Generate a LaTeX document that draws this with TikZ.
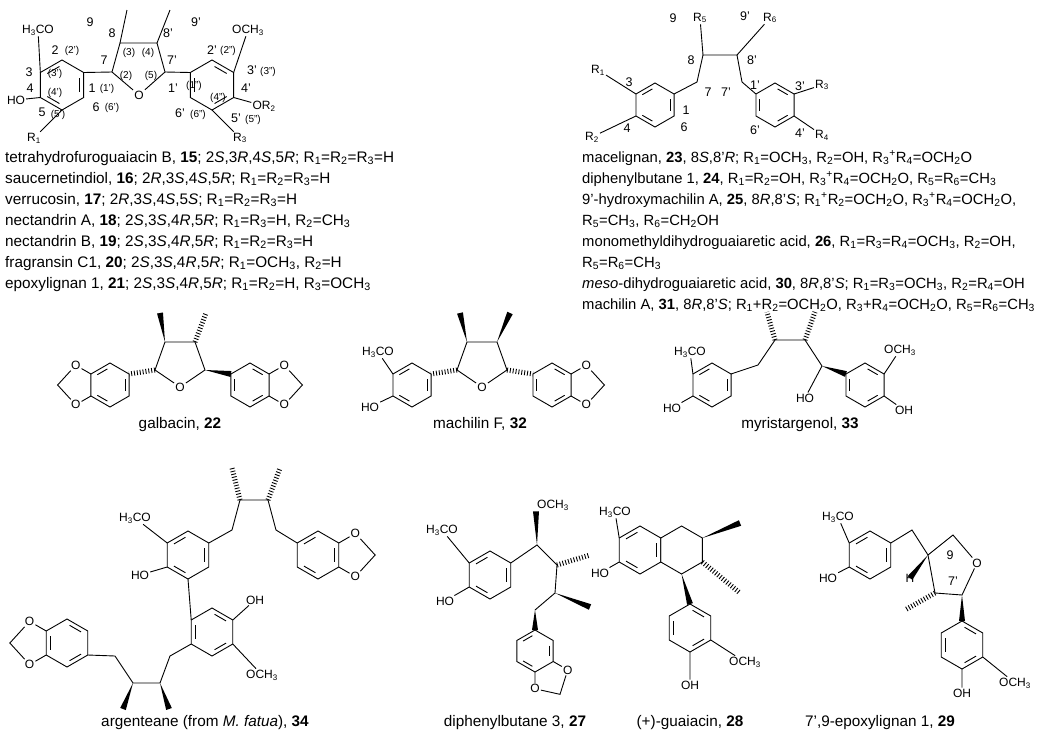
\documentclass[tikz,border=0pt]{standalone}
\usepackage{fontspec}
\setmainfont{Liberation Sans}
\usetikzlibrary{calc}
\newcommand\ring[4]{%
 \coordinate (#1c) at (#2,#3);
 \foreach \k in {0,...,5}{\coordinate (#1\k) at ($(#1c)+({90+60*\k}:#4)$);}
 \draw[bond] (#10)--(#11)--(#12)--(#13)--(#14)--(#15)--cycle;}
\newcommand\db[3]{\draw[bond,shorten <=3pt,shorten >=3pt] ($(#1)!.2!(#3)$)--($(#2)!.2!(#3)$);}
\newcommand\dbz[1]{\db{#10}{#11}{#1c}\db{#12}{#13}{#1c}\db{#14}{#15}{#1c}}
\newcommand\dbo[1]{\db{#11}{#12}{#1c}\db{#13}{#14}{#1c}\db{#15}{#10}{#1c}}
\newcommand\diox[3]{%
 \node[lab] (o1) at ($(#1)!1.8!(#2)$) {O};
 \node[lab] (o2) at ($(#1)!1.8!(#3)$) {O};
 \coordinate (ch) at ($(#1)!2.75!($(#2)!.5!(#3)$)$);
 \draw[bond] (#2)--(o1)--(ch)--(o2)--(#3);}
\newcommand\hashb[2]{\draw[line width=5pt,dash pattern=on 0.9pt off 2pt] (#1)--(#2);}
\newcommand\wedgeb[2]{\fill ($(#1)$) -- ($(#2)!3pt!90:(#1)$) -- ($(#2)!3pt!-90:(#1)$) -- cycle;}
\newcommand\sub[1]{\textsubscript{#1}}
\tikzset{bond/.style={line width=0.9pt},
 lab/.style={font=\fontsize{12}{12}\selectfont,inner sep=1pt},
 num/.style={font=\fontsize{12.5}{12}\selectfont,inner sep=0.5pt},
 sm/.style={font=\fontsize{10}{10}\selectfont,inner sep=0.5pt},
 captxt/.style={font=\fontsize{15.3}{15}\selectfont,anchor=base west,inner sep=0},
 captxr/.style={font=\fontsize{14.8}{15}\selectfont,anchor=base west,inner sep=0},
 capc/.style={font=\fontsize{15.3}{15}\selectfont,anchor=base,inner sep=0}}
\begin{document}
\begin{tikzpicture}[x=1pt,y=-1pt]
\useasboundingbox (0,0) rectangle (1050,737);
\fill[white] (0,0) rectangle (1050,737);
% ===== structure top left
\ring{A}{62}{85}{25}\dbz{A}
\node[lab] (a1) at (38,30) {H\sub{3}CO};
\node[lab] (a2) at (16,100) {HO};
\node[lab] (a3) at (34,138) {R\sub{1}};
\draw[bond] (A2)--(a1) (A1)--(a2) (A0)--(a3);
\coordinate (c7) at (112,72); \coordinate (c8) at (120,43); \coordinate (c8p) at (157,43); \coordinate (c7p) at (165,72);
\node[lab] (fo) at (139,95) {O};
\draw[bond] (A4)--(c7)--(c8)--(c8p)--(c7p)--(fo)--(c7);
\coordinate (m9) at (127,10); \coordinate (m9p) at (170,10);
\draw[bond] (c8)--(m9) (c8p)--(m9p);
\ring{B}{212}{85}{25}\dbo{B}
\draw[bond] (c7p)--(B2);
\node[lab] (b1) at (248,30) {OCH\sub{3}};
\node[lab] (b2) at (264,106) {OR\sub{2}};
\node[lab] (b3) at (240,138) {R\sub{3}};
\draw[bond] (B4)--(b1) (B5)--(b2) (B0)--(b3);
\node[num] at (55,50) {2}; \node[sm] at (72,51) {(2')};
\node[num] at (29,72) {3}; \node[sm] at (55,74) {(3')};
\node[num] at (30,88) {4}; \node[sm] at (55,93) {(4')};
\node[num] at (42,112) {5}; \node[sm] at (58,115) {(5')};
\node[num] at (96,107) {6}; \node[sm] at (112,108) {(6')};
\node[num] at (92,88) {1}; \node[sm] at (107,89) {(1')};
\node[num] at (104,60) {7}; \node[sm] at (126,76) {(2)};
\node[num] at (112,33) {8}; \node[sm] at (129,53) {(3)}; \node[sm] at (148,53) {(4)};
\node[num] at (168,33) {8'}; \node[sm] at (151,76) {(5)}; \node[num] at (172,60) {7'};
\node[num] at (90,22) {9}; \node[num] at (196,22) {9'};
\node[num] at (173,88) {1'}; \node[sm] at (194,86) {(1'')};
\node[num] at (212,50) {2'}; \node[sm] at (228,51) {(2'')};
\node[num] at (252,70) {3'}; \node[sm] at (268,72) {(3'')};
\node[num] at (246,88) {4'}; \node[sm] at (218,98) {(4'')};
\node[num] at (180,113) {6'}; \node[sm] at (198,115) {(6'')};
\node[num] at (236,118) {5'}; \node[sm] at (253,120) {(5'')};
% ===== structure top right
\ring{C}{655}{105}{22}\dbz{C}
\node[lab] (c1) at (598,70) {R\sub{1}};
\node[lab] (c2) at (592,137) {R\sub{2}};
\draw[bond] (C2)--(c1) (C1)--(c2);
\coordinate (d7) at (697,82); \coordinate (d8) at (703,55); \coordinate (d8p) at (737,55); \coordinate (d7p) at (742,82);
\node[lab] (r5) at (700,18) {R\sub{5}}; \node[lab] (r6) at (770,18) {R\sub{6}};
\draw[bond] (C4)--(d7)--(d8)--(d8p)--(d7p);
\draw[bond] (d8)--(r5) (d8p)--(r6);
\ring{D}{775}{105}{22}\dbo{D}
\draw[bond] (d7p)--(D2);
\node[lab] (d1) at (822,85) {R\sub{3}}; \node[lab] (d2) at (822,135) {R\sub{4}};
\draw[bond] (D4)--(d1) (D5)--(d2);
\node[num] at (629,82) {3}; \node[num] at (627,128) {4}; \node[num] at (686,110) {1}; \node[num] at (684,127) {6};
\node[num] at (708,92) {7}; \node[num] at (691,60) {8}; \node[num] at (673,18) {9};
\node[num] at (726,92) {7'}; \node[num] at (752,60) {8'}; \node[num] at (745,16) {9'};
\node[num] at (755,85) {1'}; \node[num] at (800,86) {3'}; \node[num] at (755,130) {6'}; \node[num] at (800,133) {4'};
% ===== caption blocks
\begin{scope}[every node/.style={captxt}]
\node at (5,162) {tetrahydrofuroguaiacin B, \textbf{15}; 2\textit{S},3\textit{R},4\textit{S},5\textit{R}; R\sub{1}=R\sub{2}=R\sub{3}=H};
\node at (5,183) {saucernetindiol, \textbf{16}; 2\textit{R},3\textit{S},4\textit{S},5\textit{R}; R\sub{1}=R\sub{2}=R\sub{3}=H};
\node at (5,204) {verrucosin, \textbf{17}; 2\textit{R},3\textit{S},4\textit{S},5\textit{S}; R\sub{1}=R\sub{2}=R\sub{3}=H};
\node at (5,225) {nectandrin A, \textbf{18}; 2\textit{S},3\textit{S},4\textit{R},5\textit{R}; R\sub{1}=R\sub{3}=H, R\sub{2}=CH\sub{3}};
\node at (5,246) {nectandrin B, \textbf{19}; 2\textit{S},3\textit{S},4\textit{R},5\textit{R}; R\sub{1}=R\sub{2}=R\sub{3}=H};
\node at (5,267) {fragransin C1, \textbf{20}; 2\textit{S},3\textit{S},4\textit{R},5\textit{R}; R\sub{1}=OCH\sub{3}, R\sub{2}=H};
\node at (5,288) {epoxylignan 1, \textbf{21}; 2\textit{S},3\textit{S},4\textit{R},5\textit{R}; R\sub{1}=R\sub{2}=H, R\sub{3}=OCH\sub{3}};
\end{scope}
\begin{scope}[every node/.style={captxr}]
\node at (582,162) {macelignan, \textbf{23}, 8\textit{S},8'\textit{R}; R\sub{1}=OCH\sub{3}, R\sub{2}=OH, R\sub{3}\textsuperscript{+}R\sub{4}=OCH\sub{2}O};
\node at (582,183) {diphenylbutane 1, \textbf{24}, R\sub{1}=R\sub{2}=OH, R\sub{3}\textsuperscript{+}R\sub{4}=OCH\sub{2}O, R\sub{5}=R\sub{6}=CH\sub{3}};
\node at (582,204) {9'-hydroxymachilin A, \textbf{25}, 8\textit{R},8'\textit{S}; R\sub{1}\textsuperscript{+}R\sub{2}=OCH\sub{2}O, R\sub{3}\textsuperscript{+}R\sub{4}=OCH\sub{2}O,};
\node at (582,225) {R\sub{5}=CH\sub{3}, R\sub{6}=CH\sub{2}OH};
\node at (582,246) {monomethyldihydroguaiaretic acid, \textbf{26}, R\sub{1}=R\sub{3}=R\sub{4}=OCH\sub{3}, R\sub{2}=OH,};
\node at (582,267) {R\sub{5}=R\sub{6}=CH\sub{3}};
\node at (582,288) {\textit{meso}-dihydroguaiaretic acid, \textbf{30}, 8\textit{R},8'\textit{S}; R\sub{1}=R\sub{3}=OCH\sub{3}, R\sub{2}=R\sub{4}=OH};
\node at (582,309) {machilin A, \textbf{31}, 8\textit{R},8'\textit{S}; R\sub{1}+R\sub{2}=OCH\sub{2}O, R\sub{3}+R\sub{4}=OCH\sub{2}O, R\sub{5}=R\sub{6}=CH\sub{3}};
\end{scope}
% ===== galbacin 22
\ring{G}{110}{385}{22}\dbz{G}
\coordinate (g7) at (155,370); \coordinate (g8) at (165,342); \coordinate (g8p) at (195,342); \coordinate (g7p) at (205,370);
\node[lab] (go) at (180,387) {O};
\draw[bond] (g7)--(g8)--(g8p)--(g7p)--(go)--(g7);
\ring{H}{250}{385}{22}\dbo{H}
\hashb{g7}{G4} \wedgeb{g7p}{H2}
\coordinate (gm1) at (160,313); \coordinate (gm2) at (206,313);
\wedgeb{g8}{gm1} \hashb{g8p}{gm2}
\diox{Gc}{G2}{G1} \diox{Hc}{H4}{H5}
% ===== machilin F 32
\ring{M}{412}{385}{22}\dbz{M}
\node[lab] (m1) at (378,352) {H\sub{3}CO}; \node[lab] (m2) at (370,407) {HO};
\draw[bond] (M2)--(m1) (M1)--(m2);
\coordinate (n7) at (457,370); \coordinate (n8) at (467,342); \coordinate (n8p) at (497,342); \coordinate (n7p) at (507,370);
\node[lab] (no) at (482,387) {O};
\draw[bond] (n7)--(n8)--(n8p)--(n7p)--(no)--(n7);
\ring{N}{552}{385}{22}\dbo{N}
\hashb{n7}{M4} \hashb{n7p}{N2}
\coordinate (nm1) at (460,313); \coordinate (nm2) at (510,313);
\wedgeb{n8}{nm1} \wedgeb{n8p}{nm2}
\diox{Nc}{N4}{N5}
% ===== myristargenol 33
\ring{Y}{712}{385}{22}\dbz{Y}
\node[lab] (y1) at (690,352) {H\sub{3}CO}; \node[lab] (y2) at (672,408) {HO};
\draw[bond] (Y2)--(y1) (Y1)--(y2);
\coordinate (y7) at (758,365); \coordinate (y8) at (775,340); \coordinate (y8p) at (805,340); \coordinate (y7p) at (822,366);
\draw[bond] (Y4)--(y7)--(y8)--(y8p)--(y7p);
\coordinate (ym1) at (767,312); \coordinate (ym2) at (815,312);
\hashb{y8}{ym1} \hashb{y8p}{ym2}
\node[lab] (yo) at (805,398) {HO}; \draw[bond] (y7p)--(yo);
\ring{Z}{865}{385}{22}\dbo{Z}
\wedgeb{y7p}{Z2}
\node[lab] (z1) at (900,350) {OCH\sub{3}}; \node[lab] (z2) at (904,410) {OH};
\draw[bond] (Z4)--(z1) (Z5)--(z2);
\node[capc] at (180,428) {galbacin, \textbf{22}};
\node[capc] at (480,428) {machilin F, \textbf{32}};
\node[capc] at (800,428) {myristargenol, \textbf{33}};
% ===== argenteane 34
\ring{RA}{188}{555}{24}\dbz{RA}
\node[lab] (ra1) at (135,518) {H\sub{3}CO}; \node[lab] (ra2) at (140,575) {HO};
\draw[bond] (RA2)--(ra1) (RA1)--(ra2);
\ring{RB}{212}{632}{24}\dbo{RB}
\draw[bond] (RA0)--(RB2);
\node[lab] (rb1) at (255,600) {OH}; \node[lab] (rb2) at (262,675) {OCH\sub{3}};
\draw[bond] (RB4)--(rb1) (RB5)--(rb2);
\coordinate (p1) at (170,656); \coordinate (p2) at (160,683); \coordinate (p3) at (133,683); \coordinate (p4) at (115,656);
\draw[bond] (RB1)--(p1)--(p2)--(p3)--(p4);
\coordinate (pm1) at (169,709); \coordinate (pm2) at (123,709);
\wedgeb{p2}{pm1} \wedgeb{p3}{pm2}
\ring{RC}{67}{643}{24}\dbo{RC}
\draw[bond] (p4)--(RC5);
\diox{RCc}{RC2}{RC1}
\ring{RD}{318}{555}{24}\dbz{RD}
\coordinate (q1) at (232,530); \coordinate (q2) at (240,500); \coordinate (q3) at (268,500); \coordinate (q4) at (276,530);
\draw[bond] (RA4)--(q1)--(q2)--(q3)--(q4)--(RD2);
\coordinate (qm1) at (232,468); \coordinate (qm2) at (280,468);
\hashb{q2}{qm1} \hashb{q3}{qm2}
\diox{RDc}{RD4}{RD5}
% ===== diphenylbutane 3, 27
\ring{P}{490}{575}{24}\dbz{P}
\node[lab] (pp1) at (442,530) {H\sub{3}CO}; \node[lab] (pp2) at (445,601) {HO};
\draw[bond] (P2)--(pp1) (P1)--(pp2);
\coordinate (e1) at (537,545); \coordinate (e2) at (557,565); \coordinate (e3) at (555,593); \coordinate (e4) at (535,610);
\node[lab] (eo) at (553,505) {OCH\sub{3}};
\draw[bond] (P4)--(e1)--(e2)--(e3)--(e4);
\wedgeb{e1}{eo.south west}
\coordinate (em1) at (590,555); \coordinate (em2) at (590,607);
\hashb{e2}{em1} \wedgeb{e3}{em2}
\ring{E}{535}{651}{21}\dbz{E}
\wedgeb{e4}{E3}
\diox{Ec}{E5}{E0}
% ===== guaiacin 28
\ring{Q}{640}{550}{24}\dbz{Q}
\node[lab] (qq1) at (615,512) {H\sub{3}CO}; \node[lab] (qq2) at (600,573) {HO};
\draw[bond] (Q2)--(qq1) (Q1)--(qq2);
\ring{QB}{681.57}{550}{24}
\coordinate (qm3) at (740,523); \coordinate (qm4) at (740,593);
\wedgeb{QB4}{qm3} \hashb{QB5}{qm4}
\ring{QC}{690}{628}{24}\dbo{QC}
\wedgeb{QB0}{QC3}
\node[lab] (qc1) at (745,662) {OCH\sub{3}}; \node[lab] (qc2) at (690,685) {OH};
\draw[bond] (QC5)--(qc1) (QC0)--(qc2);
% ===== epoxylignan 29
\ring{W}{870}{555}{24}\dbz{W}
\node[lab] (w1) at (838,517) {H\sub{3}CO}; \node[lab] (w2) at (828,578) {HO};
\draw[bond] (W2)--(w1) (W1)--(w2);
\coordinate (w3) at (912,530); \coordinate (w8) at (928,555); \coordinate (w9) at (953,535); \coordinate (w7p) at (962,595); \coordinate (w8p) at (935,593);
\node[lab] (wo) at (977,563) {O};
\draw[bond] (W4)--(w3)--(w8)--(w9)--(wo)--(w7p)--(w8p)--(w8);
\node[lab] (wh) at (910,578) {H}; \wedgeb{w8}{wh}
\coordinate (wm) at (905,610); \hashb{w8p}{wm}
\node[num] at (950,555) {9}; \node[num] at (953,581) {7'};
\ring{V}{962}{645}{24}\dbo{V}
\wedgeb{w7p}{V3}
\node[lab] (v1) at (1015,683) {OCH\sub{3}}; \node[lab] (v2) at (962,693) {OH};
\draw[bond] (V5)--(v1) (V0)--(v2);
\node[capc] at (205,726) {argenteane (from \textit{M. fatua}), \textbf{34}};
\node[capc] at (515,726) {diphenylbutane 3, \textbf{27}};
\node[capc] at (690,726) {(+)-guaiacin, \textbf{28}};
\node[capc] at (880,726) {7',9-epoxylignan 1, \textbf{29}};
\end{tikzpicture}
\end{document}
